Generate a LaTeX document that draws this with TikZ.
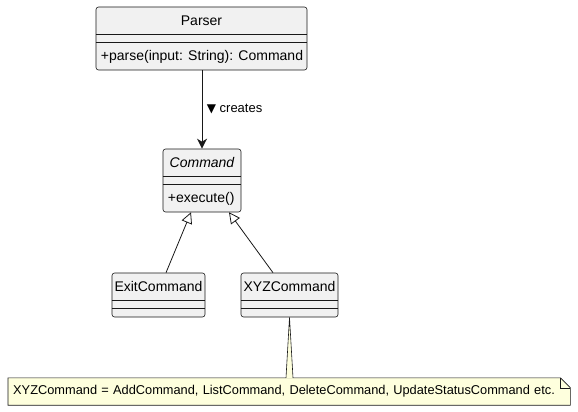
\documentclass[tikz,border=0pt]{standalone}
\usepackage{fontspec}
\setmainfont{Liberation Sans}
\newfontfamily\symfont{DejaVu Sans}
\usepackage{xcolor}
\usetikzlibrary{arrows.meta, positioning, calc, backgrounds}
\definecolor{classfill}{HTML}{F1F1F1}
\definecolor{classline}{HTML}{181818}
\definecolor{notefill}{HTML}{FEFFDD}

\tikzset{
  umlclass/.style={draw=classline, fill=classfill, line width=0.6pt,
    rounded corners=2.5pt, inner sep=0pt},
  sep/.style={draw=classline, line width=0.6pt},
  cname/.style={font=\fontsize{14}{16}\selectfont, inner sep=0pt},
  cmember/.style={font=\fontsize{14}{16}\selectfont, inner sep=0pt, anchor=west},
  creates/.style={draw=classline, line width=1pt,
    -{Stealth[length=10pt, width=10pt, inset=3pt]}},
  extends/.style={draw=classline, line width=0.8pt,
    -{Triangle[open, length=11pt, width=11pt]}},
}

\begin{document}
\begin{tikzpicture}[x=1pt, y=-1pt]
    \useasboundingbox (0,0) rectangle (578,412);
    % Parser
    \node[umlclass, minimum width=211pt, minimum height=63pt] (parser) at (201.5,38.5) {};
    \draw[sep] ([yshift=-28pt]parser.north west) -- ([yshift=-28pt]parser.north east);
    \draw[sep] ([yshift=-36pt]parser.north west) -- ([yshift=-36pt]parser.north east);
    \node[cname] at ([yshift=-14pt]parser.north) {Parser};
    \node[cmember] at ([xshift=5pt, yshift=13.5pt]parser.south west)
      {+parse(input: String): Command};
    % Command (abstract)
    \node[umlclass, minimum width=78pt, minimum height=63pt] (command) at (202,180.5) {};
    \draw[sep] ([yshift=-28pt]command.north west) -- ([yshift=-28pt]command.north east);
    \draw[sep] ([yshift=-36pt]command.north west) -- ([yshift=-36pt]command.north east);
    \node[cname] at ([yshift=-14pt]command.north) {\itshape Command};
    \node[cmember] at ([xshift=5pt, yshift=13.5pt]command.south west) {+execute()};
    % subclasses
    \node[umlclass, minimum width=93pt, minimum height=44pt] (exit) at (158.5,295) {};
    \draw[sep] ([yshift=-28pt]exit.north west) -- ([yshift=-28pt]exit.north east);
    \draw[sep] ([yshift=-36pt]exit.north west) -- ([yshift=-36pt]exit.north east);
    \node[cname] at ([yshift=-14pt]exit.north) {ExitCommand};
    \node[umlclass, minimum width=97pt, minimum height=44pt] (xyz) at (289.5,295) {};
    \draw[sep] ([yshift=-28pt]xyz.north west) -- ([yshift=-28pt]xyz.north east);
    \draw[sep] ([yshift=-36pt]xyz.north west) -- ([yshift=-36pt]xyz.north east);
    \node[cname] at ([yshift=-14pt]xyz.north) {XYZCommand};
    % Note with folded corner
    \node[anchor=west, minimum height=27pt, text width=552pt, inner xsep=5pt,
      inner ysep=0pt, align=left, font=\fontsize{12.8}{15}\selectfont] (note) at (8,391.5)
      {XYZCommand = AddCommand, ListCommand, DeleteCommand, UpdateStatusCommand etc.};
    \begin{scope}[on background layer]
      \filldraw[fill=notefill, draw=classline, line width=0.6pt]
        (note.north west) -- ([xshift=-10pt]note.north east)
        -- ([yshift=-10pt]note.north east) -- (note.south east)
        -- (note.south west) -- cycle;
      \draw[classline, line width=0.6pt] ([xshift=-10pt]note.north east)
        -- ([xshift=-10pt, yshift=-10pt]note.north east) -- ([yshift=-10pt]note.north east);
    \end{scope}
    % Note anchor wedge
    \fill[notefill] ([xshift=-3.5pt, yshift=-0.6pt]note.north -| xyz.south)
      -- (xyz.south) -- ([xshift=3.5pt, yshift=-0.6pt]note.north -| xyz.south) -- cycle;
    \draw[classline, line width=0.6pt] ([xshift=-3.5pt]note.north -| xyz.south)
      -- (xyz.south) -- ([xshift=3.5pt]note.north -| xyz.south);
    % Relations
    \draw[creates] (parser.south -| command.north) -- (command.north)
      node[midway, right=1pt, font=\fontsize{13}{15}\selectfont]
      {{\symfont\fontsize{12}{12}\selectfont ▼} creates};
    \draw[extends] ([xshift=7.5pt]exit.north) -- ([xshift=-11pt]command.south);
    \draw[extends] ([xshift=-16.5pt]xyz.north) -- ([xshift=27pt]command.south);
\end{tikzpicture}
\end{document}
